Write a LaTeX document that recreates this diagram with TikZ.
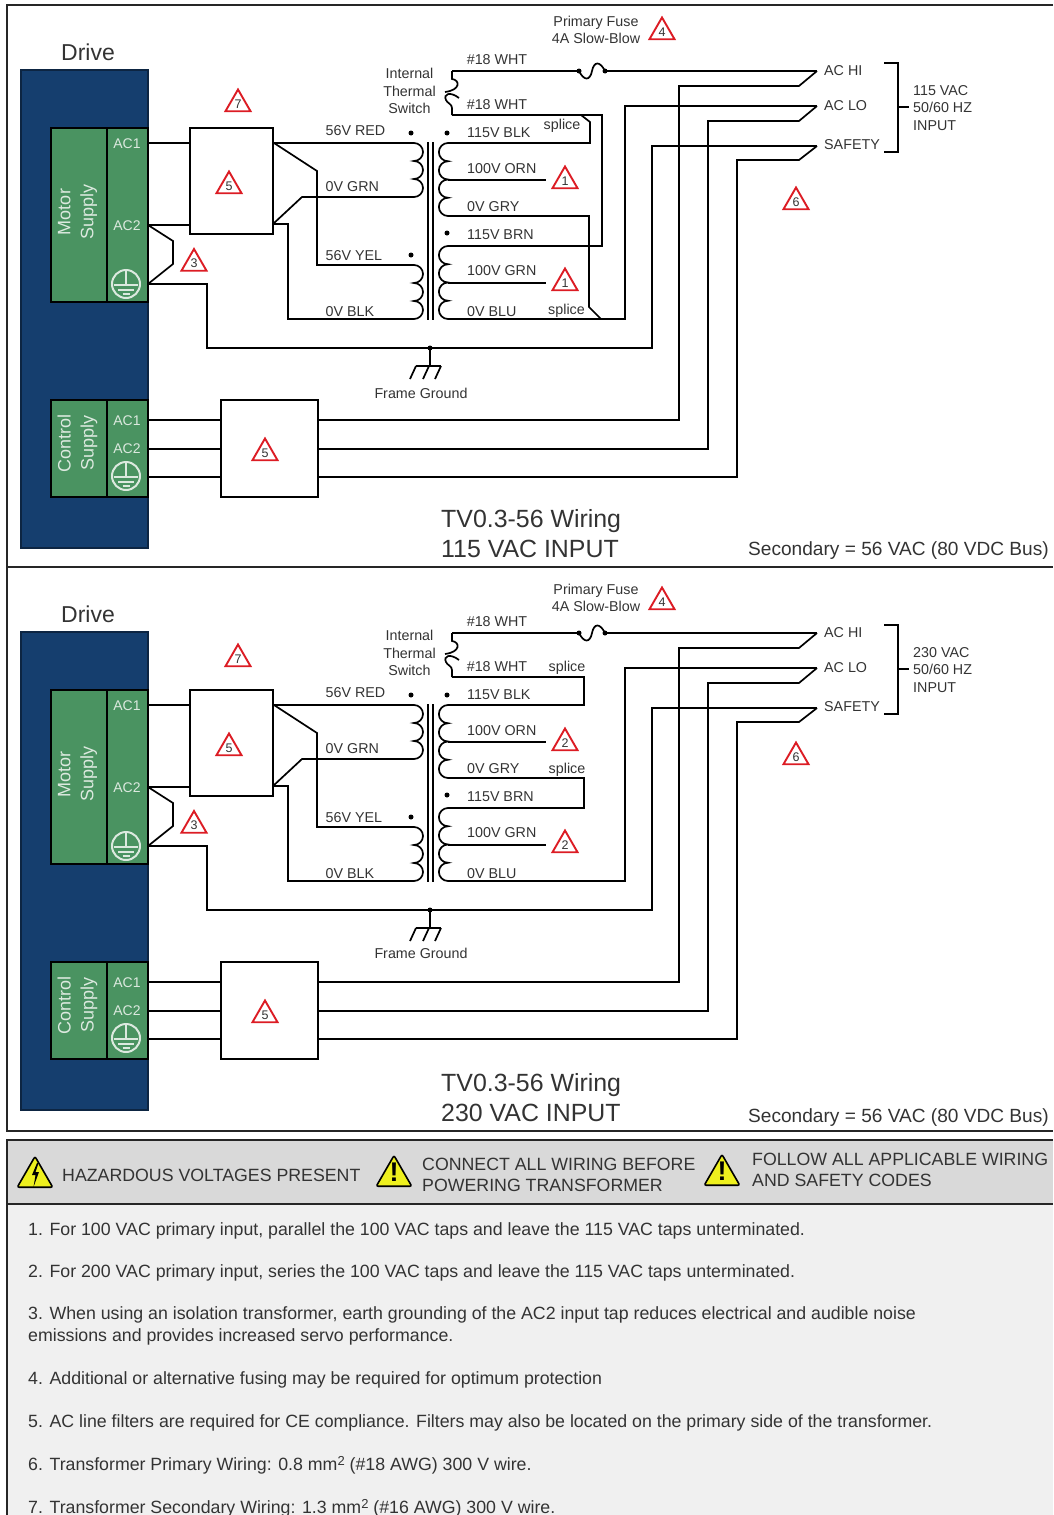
\documentclass[tikz,border=0pt]{standalone}
\usepackage{fontspec}
\setmainfont{Liberation Sans}
\usepackage{xcolor}
\usetikzlibrary{shapes.geometric,calc}

\definecolor{drivecol}{HTML}{153E6E}
\definecolor{supplycol}{HTML}{4A9361}
\definecolor{flagcol}{HTML}{DC1C24}
\definecolor{labcol}{HTML}{333333}
\definecolor{palecol}{HTML}{DCE9DF}
\definecolor{headcol}{HTML}{D9D9D9}
\definecolor{notecol}{HTML}{F0F0F0}
\definecolor{warncol}{HTML}{EEF01E}

\def\lobeR{arc[start angle=90,end angle=-90,radius=9pt]}
\def\lobeL{arc[start angle=90,end angle=270,radius=9.125pt]}
\newcommand{\squared}{\raisebox{5pt}{\fontsize{13}{13}\selectfont 2}}

\tikzset{
  wire/.style={draw=black, line width=1.7pt, line join=miter},
  corewire/.style={draw=black, line width=1.4pt},
  frameline/.style={draw=black!85, line width=2pt},
  lab/.style={font=\fontsize{14.3}{17.3}\selectfont, text=labcol, inner sep=0pt, anchor=west, yshift=-1pt},
  midlab/.style={lab, anchor=center, align=center},
  pale/.style={font=\fontsize{14}{17}\selectfont, text=palecol, inner sep=0pt, yshift=-1pt},
  supplylab/.style={font=\fontsize{18}{23}\selectfont, text=palecol, inner sep=0pt, align=center, rotate=90},
  supplybox/.style={fill=supplycol, draw=black, line width=2pt, minimum height=#1, minimum width=97pt, inner sep=0pt},
  drivebox/.style={fill=drivecol, draw=drivecol!60!black, line width=2pt, minimum width=127pt, minimum height=478pt, inner sep=0pt},
  filterbox/.style={fill=white, draw=black, line width=2pt, inner sep=0pt},
  flag/.style={regular polygon, regular polygon sides=3, draw=flagcol, fill=white, line width=1.9pt, minimum size=29pt, inner sep=0pt, font=\fontsize{12.5}{12.5}\selectfont, text=labcol},
  warntri/.style={regular polygon, regular polygon sides=3, draw=black, fill=warncol, line width=1.6pt, rounded corners=2pt, minimum size=41pt, inner sep=0pt},
  titlelab/.style={font=\fontsize{24.9}{30}\selectfont, text=labcol, inner sep=0pt, anchor=west},
  seclab/.style={font=\fontsize{19.1}{19}\selectfont, text=labcol, inner sep=0pt, anchor=east},
  notelab/.style={font=\fontsize{17.75}{21.5}\selectfont, text=labcol, inner sep=0pt, anchor=west, align=left},
  headlab/.style={font=\fontsize{17.75}{21}\selectfont, text=labcol, inner sep=0pt, anchor=west, align=left},
  earthmark/.pic={
    \draw[palecol, line width=2pt] (0,0) circle (14pt);
    \draw[palecol, line width=1.7pt] (0,-13) -- (0,1) (-12,1) -- (12,1) (-8,6) -- (8,6) (-3.5,10) -- (3.5,10);
  }
}

\begin{document}
\begin{tikzpicture}[x=1pt, y=-1pt]
\useasboundingbox (0,0) rectangle (1053,1515);

% outer frames
\coordinate (frametl) at (7,5);
\coordinate (frametr) at (1053,5);
\coordinate (framebl) at (7,1131);
\coordinate (framebr) at (1053,1131);
\coordinate (framemidl) at (7,567);
\coordinate (framemidr) at (1053,567);
\draw[frameline] (frametr) -- (frametl) -- (framebl) -- (framebr);
\draw[frameline] (framemidl) -- (framemidr);

% the parts both panels share
\foreach \p/\dy in {a/0, b/562} {
\begin{scope}[yshift=-\dy pt]

\node (\p-drive) [drivebox] at (84.5,309) {};
\node (\p-drivelab) [font=\fontsize{23}{23}\selectfont, text=labcol, inner sep=0pt] at (88,52) {Drive};
\node (\p-motor) [supplybox=174pt] at (99.5,215) {};
\node (\p-control) [supplybox=97pt] at (99.5,448.5) {};
\coordinate (\p-mdiva) at (107,128);
\coordinate (\p-mdivb) at (107,302);
\coordinate (\p-cdiva) at (107,400);
\coordinate (\p-cdivb) at (107,497);
\draw[wire, line width=2pt] (\p-mdiva) -- (\p-mdivb);
\draw[wire, line width=2pt] (\p-cdiva) -- (\p-cdivb);
\node (\p-motorlab) [supplylab] at (77.5,212) {Motor\\Supply};
\node (\p-controllab) [supplylab] at (77.5,443) {Control\\Supply};
\node (\p-mac1lab) [pale] at (127,143) {AC1};
\node (\p-mac2lab) [pale] at (127,225) {AC2};
\node (\p-cac1lab) [pale] at (127,420) {AC1};
\node (\p-cac2lab) [pale] at (127,448) {AC2};
\pic at (126,284) {earthmark};
\pic at (126,476) {earthmark};

\coordinate (\p-mac1) at (148,143);
\coordinate (\p-mac2) at (148,225);
\coordinate (\p-mgnd) at (148,284);
\coordinate (\p-cac1) at (148,420);
\coordinate (\p-cac2) at (148,449);
\coordinate (\p-cgnd) at (148,477);
\coordinate (\p-hi) at (817,71);
\coordinate (\p-lo) at (817,106);
\coordinate (\p-safe) at (817,146);
\coordinate (\p-sa) at (414,143);
\coordinate (\p-sb) at (414,197);
\coordinate (\p-sc) at (414,265);
\coordinate (\p-sd) at (414,319);
\coordinate (\p-pa) at (448,143);
\coordinate (\p-pb) at (448,180);
\coordinate (\p-pc) at (448,216);
\coordinate (\p-pd) at (448,246);
\coordinate (\p-pe) at (448,283);
\coordinate (\p-pf) at (448,319);
\coordinate (\p-tapa) at (546,180);
\coordinate (\p-tapb) at (546,283);
\coordinate (\p-coreat) at (428,142);
\coordinate (\p-coreab) at (428,320);
\coordinate (\p-corebt) at (433,142);
\coordinate (\p-corebb) at (433,320);
\coordinate (\p-tst) at (452,71);
\coordinate (\p-tsb) at (452,115);
\coordinate (\p-fusea) at (579,71);
\coordinate (\p-fuseb) at (605,71);
\coordinate (\p-junc) at (430,348);
\coordinate (\p-gndbar) at (430,366);

\node (\p-filtm) [filterbox, minimum width=83pt, minimum height=106pt] at (231.5,181) {};
\node (\p-filtc) [filterbox, minimum width=97pt, minimum height=97pt] at (269.5,448.5) {};

% drive side
\draw[wire] (\p-mac1) -- (\p-mac1 -| \p-filtm.west);
\draw[wire] (\p-mac2) -- (\p-mac2 -| \p-filtm.west);
\draw[wire] (\p-mac2) -- (173,241) -- (173,264) -- (\p-mgnd);
\draw[wire] (\p-mgnd) -- (207,284) -- (207,348) -- (652,348) -- (652,146) -- (\p-safe);
\draw[wire] (\p-cac1) -- (\p-cac1 -| \p-filtc.west);
\draw[wire] (\p-cac2) -- (\p-cac2 -| \p-filtc.west);
\draw[wire] (\p-cgnd) -- (\p-cgnd -| \p-filtc.west);

% filter to secondary
\draw[wire] (\p-filtm.east |- \p-sa) -- (\p-sa);
\draw[wire] (\p-filtm.east |- \p-sa) -- (317,171) -- (317,265) -- (\p-sc);
\draw[wire] (273,224) -- (302,197) -- (\p-sb);
\draw[wire] (273,224) -- (288,224) -- (288,319) -- (\p-sd);

% windings
\draw[wire] (\p-sa) \lobeR \lobeR \lobeR;
\draw[wire] (\p-sc) \lobeR \lobeR \lobeR;
\draw[wire] (\p-pa) \lobeL \lobeL \lobeL \lobeL;
\draw[wire] (\p-pd) \lobeL \lobeL \lobeL \lobeL;
\draw[corewire] (\p-coreat) -- (\p-coreab);
\draw[corewire] (\p-corebt) -- (\p-corebb);
\draw[wire] (\p-pb) -- (\p-tapa);
\draw[wire] (\p-pe) -- (\p-tapb);
\fill (411,133) circle (2.5pt);
\fill (447,133) circle (2.5pt);
\fill (447,233) circle (2.5pt);
\fill (411,255) circle (2.5pt);

% thermal switch and fuse
\draw[wire] (\p-tst) -- (452,79) .. controls (460,80) and (461,90) .. (445,92);
\draw[wire] (459,98) .. controls (450,91) and (443,94) .. (446,100) .. controls (447,103) and (452,104) .. (452,108) -- (\p-tsb);
\draw[wire] (\p-tst) -- (\p-fusea);
\draw[wire] (\p-fuseb) -- (\p-hi);
\draw[wire] (\p-fusea) .. controls (584,81) and (590,81) .. (592,71) .. controls (594,61) and (600,61) .. (\p-fuseb);
\fill (\p-fusea) circle (2.5pt);
\fill (\p-fuseb) circle (2.5pt);

% line side
\draw[wire] (\p-filtc.east |- \p-cac1) -- (679,420) -- (679,86) -- (799,86) -- (\p-hi);
\draw[wire] (\p-filtc.east |- \p-cac2) -- (708,449) -- (708,121) -- (799,121) -- (\p-lo);
\draw[wire] (\p-filtc.east |- \p-cgnd) -- (737,477) -- (737,160) -- (799,160) -- (\p-safe);
\draw[wire] (\p-pf) -- (625,319) -- (625,106) -- (\p-lo);
\draw[wire] (884,63) -- (898,63) -- (898,152) -- (884,152);
\draw[wire] (898,107) -- (909,107);

% frame ground
\fill (\p-junc) circle (2.5pt);
\draw[wire] (\p-junc) -- (\p-gndbar);
\draw[wire] (416,366) -- (441,366);
\draw[wire] (416,366) -- (410,379);
\draw[wire] (429,366) -- (423,379);
\draw[wire] (441,366) -- (435,379);

% wire labels
\node (\p-wht) [midlab] at (497,59) {\#18 WHT};
\node (\p-whtb) [midlab] at (497,104) {\#18 WHT};
\node (\p-tslab) [midlab] at (409.5,90) {Internal\\Thermal\\Switch};
\node (\p-red) [lab] at (325.5,130) {56V RED};
\node (\p-grn) [lab] at (325.5,186) {0V GRN};
\node (\p-yel) [lab] at (325.5,255) {56V YEL};
\node (\p-blk) [lab] at (325.5,311) {0V BLK};
\node (\p-pblk) [lab] at (467,132) {115V BLK};
\node (\p-porn) [lab] at (467,168) {100V ORN};
\node (\p-pgry) [lab] at (467,206) {0V GRY};
\node (\p-pbrn) [lab] at (467,234) {115V BRN};
\node (\p-pgrn) [lab] at (467,270) {100V GRN};
\node (\p-pblu) [lab] at (467,311) {0V BLU};
\node (\p-hilab) [lab] at (824,70) {AC HI};
\node (\p-lolab) [lab] at (824,105) {AC LO};
\node (\p-safelab) [lab] at (824,144) {SAFETY};

\node (\p-flag3) [flag] at (194,263.5) {3};
\node (\p-flag5) [flag] at (229,186) {5};
\node (\p-flag5b) [flag] at (265,453) {5};

\end{scope}
}

% top panel only
\node (fusea) [midlab] at (596,29) {Primary Fuse\\4A Slow-Blow};
\node (flag4a) [flag] at (662,32) {4};
\node (flag7a) [flag] at (238,104) {7};
\node (flag6a) [flag] at (796,202) {6};
\node (flag1a) [flag] at (565,181) {1};
\node (flag1b) [flag] at (565,283) {1};
\node (splicea) [midlab] at (562,125) {splice};
\node (spliceb) [midlab] at (566.5,310) {splice};
\node (inputa) [lab, align=left] at (913,107) {115 VAC\\50/60 HZ\\INPUT};
\node (framea) [midlab] at (421,392) {Frame Ground};
\node (titlea) [titlelab] at (441,521) {TV0.3-56 Wiring};
\node (titleb) [titlelab] at (441,549) {115 VAC INPUT};
\node (seca) [seclab] at (1049,551) {Secondary = 56 VAC (80 VDC Bus)};
\coordinate (jointa) at (581,115);
\coordinate (jointb) at (601,319);
\coordinate (wrapa) at (602,115);
\coordinate (wrapb) at (602,246);
\draw[wire] (a-pa) -- (590,143) -- (590,122) -- (jointa);
\draw[wire] (a-tsb) -- (wrapa) -- (wrapb) -- (a-pd);
\draw[wire] (a-pc) -- (589,216) -- (589,307) -- (jointb);

% bottom panel only
\node (fuseb) [midlab] at (596,597) {Primary Fuse\\4A Slow-Blow};
\node (flag4b) [flag] at (662,602) {4};
\node (flag7b) [flag] at (238,659) {7};
\node (flag6b) [flag] at (796,757) {6};
\node (flag2a) [flag] at (565,743) {2};
\node (flag2b) [flag] at (565,845) {2};
\node (splicec) [midlab] at (567,667) {splice};
\node (spliced) [midlab] at (567,769) {splice};
\node (inputb) [lab, align=left] at (913,669) {230 VAC\\50/60 HZ\\INPUT};
\node (frameb) [midlab] at (421,952) {Frame Ground};
\node (titlec) [titlelab] at (441,1085) {TV0.3-56 Wiring};
\node (titled) [titlelab] at (441,1113) {230 VAC INPUT};
\node (secb) [seclab] at (1049,1118) {Secondary = 56 VAC (80 VDC Bus)};
\draw[wire] (b-tsb |- 0,677) -- (584,677) -- (584,705) -- (b-pa);
\draw[wire] (b-pc) -- (584,778) -- (584,808) -- (b-pd);

% notes panel
\coordinate (notetl) at (7,1140);
\coordinate (notetr) at (1053,1140);
\coordinate (noteml) at (7,1204);
\coordinate (notemr) at (1053,1204);
\coordinate (notebl) at (7,1515);
\fill[notecol] (notetl) rectangle (1053,1515);
\fill[headcol] (notetl) rectangle (notemr);
\draw[frameline] (notetr) -- (notetl) -- (notebl);
\draw[frameline] (noteml) -- (notemr);

\node (warna) [warntri] at (35,1177) {};
\node (warnb) [warntri] at (394,1176) {};
\node (warnc) [warntri] at (722,1175) {};
\fill (37,1163) -- (32,1175) -- (35.5,1175) -- (33.5,1187) -- (39,1172) -- (35.5,1172) -- (38.5,1163) -- cycle;
\node (markb) [font=\fontsize{27}{27}\selectfont\bfseries, inner sep=0pt] at (394,1172) {!};
\node (markc) [font=\fontsize{27}{27}\selectfont\bfseries, inner sep=0pt] at (722,1171) {!};
\node (heada) [headlab] at (62,1175) {HAZARDOUS VOLTAGES PRESENT};
\node (headb) [headlab] at (422,1174.5) {CONNECT ALL WIRING BEFORE\\POWERING TRANSFORMER};
\node (headc) [headlab] at (752,1170) {FOLLOW ALL APPLICABLE WIRING\\AND SAFETY CODES};

\node (note1) [notelab] at (28,1231) {1. For 100 VAC primary input, parallel the 100 VAC taps and leave the 115 VAC taps unterminated.};
\node (note2) [notelab] at (28,1273) {2. For 200 VAC primary input, series the 100 VAC taps and leave the 115 VAC taps unterminated.};
\node (note3) [notelab] at (28,1326) {3. When using an isolation transformer, earth grounding of the AC2 input tap reduces electrical and audible noise\\emissions and provides increased servo performance.};
\node (note4) [notelab] at (28,1380) {4. Additional or alternative fusing may be required for optimum protection};
\node (note5) [notelab] at (28,1423) {5. AC line filters are required for CE compliance. Filters may also be located on the primary side of the transformer.};
\node (note6) [notelab] at (28,1465) {6. Transformer Primary Wiring: 0.8 mm\squared{} (\#18 AWG) 300 V wire.};
\node (note7) [notelab] at (28,1508) {7. Transformer Secondary Wiring: 1.3 mm\squared{} (\#16 AWG) 300 V wire.};

\end{tikzpicture}
\end{document}
